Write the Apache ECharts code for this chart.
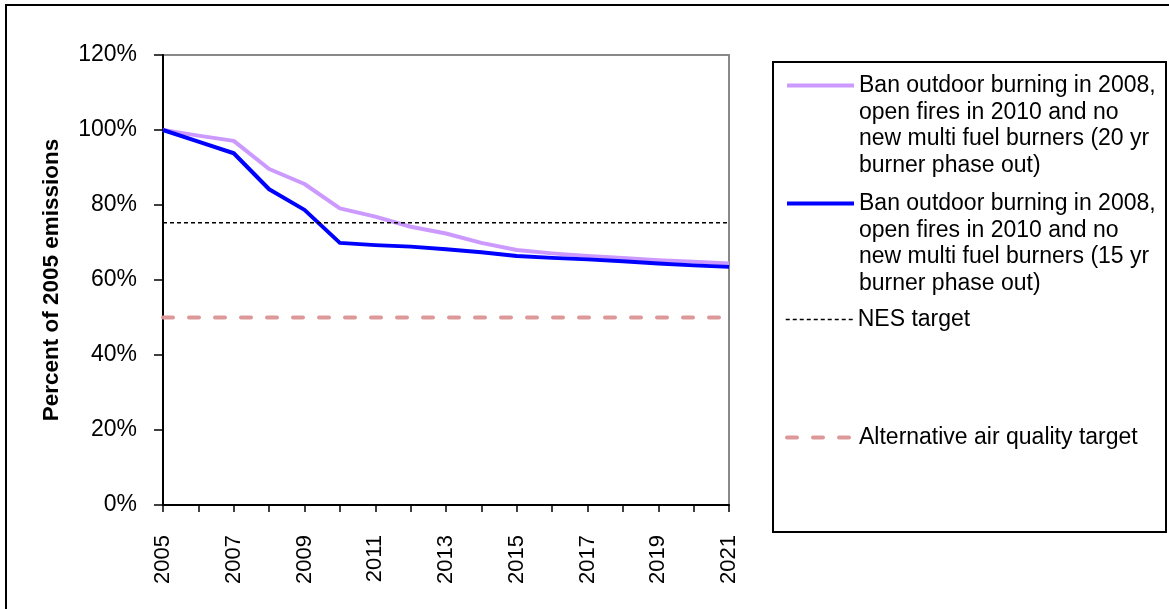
<!DOCTYPE html>
<html>
<head>
<meta charset="utf-8">
<script src="https://cdn.jsdelivr.net/npm/echarts@6/dist/echarts.min.js"></script>
<style>
  html, body { margin: 0; padding: 0; background: #ffffff; }
  #chart { width: 1169px; height: 609px; }
</style>
</head>
<body>
<div id="chart"></div>
<script>
// Years on the horizontal axis
const years = ['2005', '2006', '2007', '2008', '2009', '2010', '2011', '2012', '2013',
  '2014', '2015', '2016', '2017', '2018', '2019', '2020', '2021'];

// Emissions as percent of 2005, 20-year burner phase out
const phaseOut20 = [100, 98.5, 97.1, 89.6, 85.6, 79.1, 76.9, 74.2, 72.4,
  69.9, 68.0, 67.1, 66.4, 65.9, 65.3, 64.9, 64.4];

// Emissions as percent of 2005, 15-year burner phase out
const phaseOut15 = [100, 96.9, 93.8, 84.2, 78.7, 69.9, 69.3, 68.9, 68.2,
  67.4, 66.4, 65.9, 65.5, 65.0, 64.4, 63.9, 63.5];

// Target levels
const nesTarget = [75.3, 75.3, 75.3, 75.3, 75.3, 75.3, 75.3, 75.3, 75.3,
  75.3, 75.3, 75.3, 75.3, 75.3, 75.3, 75.3, 75.3];
const altTarget = [50, 50, 50, 50, 50, 50, 50, 50, 50,
  50, 50, 50, 50, 50, 50, 50, 50];

// Value axis ticks (percent)
const yMin = 0;
const yMax = 120;
const yStep = 20;

// Series names and how they wrap in the legend
const name20 = 'Ban outdoor burning in 2008, open fires in 2010 and no new multi fuel burners (20 yr burner phase out)';
const name15 = 'Ban outdoor burning in 2008, open fires in 2010 and no new multi fuel burners (15 yr burner phase out)';
const nameNes = 'NES target';
const nameAlt = 'Alternative air quality target';
const lines20 = ['Ban outdoor burning in 2008,', 'open fires in 2010 and no', 'new multi fuel burners (20 yr', 'burner phase out)'];
const lines15 = ['Ban outdoor burning in 2008,', 'open fires in 2010 and no', 'new multi fuel burners (15 yr', 'burner phase out)'];

const FONT = '"Liberation Sans", Arial, Helvetica, sans-serif';
const LINE_H = 26.67;

// One legend block per entry; multi-line entries get blank leading lines so
// the key line sits beside the first text line.
function legendEntry(name, lines, firstLineCenter, lineWidth) {
  const lead = lines.length > 1 ? '\n'.repeat(lines.length - 1) : '';
  const totalLines = lines.length > 1 ? lines.length * 2 - 1 : 1;
  const half = totalLines * LINE_H / 2;
  return {
    data: [name],
    orient: 'vertical',
    left: 785,
    top: firstLineCenter - half,
    padding: 0,
    itemWidth: 67,
    itemHeight: 14,
    selectedMode: false,
    lineStyle: { width: lineWidth },
    itemStyle: { color: 'rgba(0,0,0,0)', borderWidth: 0, opacity: 0 },
    textStyle: { fontFamily: FONT, fontSize: 23, lineHeight: LINE_H, color: '#000000' },
    formatter: function () { return lead + lines.join('\n'); }
  };
}

const chart = echarts.init(document.getElementById('chart'), null, { renderer: 'canvas' });

chart.setOption({
  animation: false,
  backgroundColor: '#ffffff',
  textStyle: { fontFamily: FONT },
  grid: {
    left: 163, top: 55, width: 566, height: 450,
    containLabel: false,
    outerBoundsMode: 'none',
    show: true,
    borderColor: '#888888',
    borderWidth: 2,
    backgroundColor: 'transparent'
  },
  legend: [
    legendEntry(name20, lines20, 85.5, 4),
    legendEntry(name15, lines15, 203.5, 4),
    legendEntry(nameNes, [nameNes], 319.5, 1.5),
    legendEntry(nameAlt, [nameAlt], 437.5, 4)
  ],
  xAxis: {
    type: 'category',
    data: years,
    boundaryGap: false,
    axisLine: { lineStyle: { color: '#000000', width: 2 } },
    axisTick: { show: true, interval: 0, length: 7, lineStyle: { color: '#000000', width: 1.5 } },
    axisLabel: {
      interval: 1,
      rotate: 90,
      margin: 30,
      fontSize: 22,
      fontFamily: FONT,
      color: '#000000'
    },
    splitLine: { show: false }
  },
  yAxis: {
    type: 'value',
    min: yMin,
    max: yMax,
    interval: yStep,
    name: 'Percent of 2005 emissions',
    nameLocation: 'middle',
    nameGap: 100,
    nameTextStyle: { fontFamily: FONT, fontSize: 22.5, fontWeight: 'bold', color: '#000000' },
    axisLine: { show: true, lineStyle: { color: '#000000', width: 2 } },
    axisTick: { show: true, length: 9, lineStyle: { color: '#000000', width: 1.5 } },
    axisLabel: {
      margin: 26,
      fontSize: 23,
      fontFamily: FONT,
      color: '#000000',
      formatter: '{value}%'
    },
    splitLine: { show: false }
  },
  series: [
    {
      name: name20,
      type: 'line',
      data: phaseOut20,
      symbol: 'none',
      color: '#CC99FF',
      lineStyle: { color: '#CC99FF', width: 4, join: 'round' },
      z: 3
    },
    {
      name: name15,
      type: 'line',
      data: phaseOut15,
      symbol: 'none',
      color: '#0000FF',
      lineStyle: { color: '#0000FF', width: 4, join: 'round' },
      z: 4
    },
    {
      name: nameNes,
      type: 'line',
      data: nesTarget,
      symbol: 'none',
      color: '#000000',
      lineStyle: { color: '#000000', width: 1.5, type: [4, 3] },
      z: 5
    },
    {
      name: nameAlt,
      type: 'line',
      data: altTarget,
      symbol: 'none',
      color: '#DD9999',
      lineStyle: { color: '#DD9999', width: 4, type: [10, 16], cap: 'round' },
      z: 2
    }
  ],
  graphic: [
    {
      // outer frame of the figure
      type: 'rect',
      silent: true,
      shape: { x: 6, y: 5, width: 1180, height: 640 },
      style: { fill: 'none', stroke: '#000000', lineWidth: 2 },
      z: 0
    },
    {
      // frame around the legend
      type: 'rect',
      silent: true,
      shape: { x: 773, y: 62, width: 393, height: 470 },
      style: { fill: 'none', stroke: '#000000', lineWidth: 2 },
      z: 0
    }
  ]
});
</script>
</body>
</html>
